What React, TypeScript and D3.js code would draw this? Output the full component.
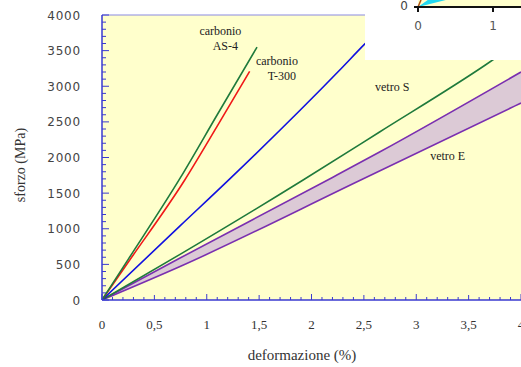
import React from "react";
import * as d3 from "d3";

// strain (%) / stress (MPa)
const as4Strain = [0, 0.25, 0.75, 1.1, 1.48];
const as4Stress = [0, 570, 1720, 2600, 3550];
const t300Strain = [0, 0.25, 0.79, 1.1, 1.41];
const t300Stress = [0, 530, 1684, 2440, 3210];
const blueStrain = [0, 0.745, 1.22, 2.27, 2.5, 2.65];
const blueStress = [0, 1040, 1700, 3228, 3580, 3800];
const vetroSStrain = [0, 0.745, 1.92, 2.65, 3.66, 3.9];
const vetroSStress = [0, 640, 1684, 2358, 3298, 3540];
const vetroEUpStrain = [0, 0.745, 2.2, 2.65, 4.0];
const vetroEUpStress = [0, 589, 1720, 2077, 3200];
const vetroELoStrain = [0, 0.745, 2.47, 4.0];
const vetroELoStress = [0, 470, 1684, 2765];

const xTickLabels = ["0", "0,5", "1", "1,5", "2", "2,5", "3", "3,5", "4"];
const xTickValues = [0, 0.5, 1, 1.5, 2, 2.5, 3, 3.5, 4];
const yTickValues = [0, 500, 1000, 1500, 2000, 2500, 3000, 3500, 4000];

const labels = [
  { lines: ["carbonio", "AS-4"], x: 1.13, y: 3720 },
  { lines: ["carbonio", "T-300"], x: 1.67, y: 3300 },
  { lines: ["vetro S"], x: 2.77, y: 2930 },
  { lines: ["vetro E"], x: 3.3, y: 1970 },
];

// inset (partially visible) ticks
const insetTicks = [0, 1];
const insetCyanX = [0, 0.37, 0.13];
const insetCyanY = [0, 0.1, 0.1];

const zip = (a: number[], b: number[]) => a.map((v, i) => [v, b[i]] as [number, number]);

export default function App() {
  const W = 521, H = 367;
  const x = d3.scaleLinear().domain([0, 4]).range([102, 521]);
  const y = d3.scaleLinear().domain([0, 4000]).range([300, 15]);
  const line = d3.line<[number, number]>().x(d => x(d[0])).y(d => y(d[1])).curve(d3.curveMonotoneX);

  const up = zip(vetroEUpStrain, vetroEUpStress);
  const lo = zip(vetroELoStrain, vetroELoStress);
  const area = d3
    .area<number>()
    .x(d => x(d))
    .y0(d => y(d3.scaleLinear().domain(vetroELoStrain).range(vetroELoStress)(d)))
    .y1(d => y(d3.scaleLinear().domain(vetroEUpStrain).range(vetroEUpStress)(d)));
  const band = area(d3.range(0, 4.001, 0.05));

  const axisColor = "#3a3ad0";
  const minorX = d3.range(0, 41).map(i => i / 10);
  const minorY = d3.range(0, 41).map(i => i * 100);

  const ix = d3.scaleLinear().domain([0, 1]).range([418, 493]);
  const iy = d3.scaleLinear().domain([0, 1]).range([7, -63]);
  const cyanPath =
    d3.line<[number, number]>().x(d => ix(d[0])).y(d => iy(d[1]))(zip(insetCyanX, insetCyanY)) + "Z";

  return (
    <svg width={W} height={H} style={{ position: "fixed", left: 0, top: 0, background: "#fff" }}>
      <defs>
        <clipPath id="plot">
          <rect x={102} y={15} width={419} height={285} />
        </clipPath>
      </defs>
      <rect x={102} y={15} width={419} height={285} fill="#ffffcc" />
      <g clipPath="url(#plot)">
        <path d={band!} fill="#dccad6" stroke="none" />
        <path d={line(up)!} fill="none" stroke="#7a2fb0" strokeWidth={1.6} />
        <path d={line(lo)!} fill="none" stroke="#7a2fb0" strokeWidth={1.6} />
        <path d={line(zip(vetroSStrain, vetroSStress))!} fill="none" stroke="#1f7a3c" strokeWidth={1.6} />
        <path d={line(zip(blueStrain, blueStress))!} fill="none" stroke="#1010e0" strokeWidth={1.6} />
        <path d={line(zip(t300Strain, t300Stress))!} fill="none" stroke="#f01818" strokeWidth={1.6} />
        <path d={line(zip(as4Strain, as4Stress))!} fill="none" stroke="#1f7a3c" strokeWidth={1.6} />
      </g>
      {/* axes */}
      <line x1={102} x2={521} y1={15} y2={15} stroke="#8a8ae0" strokeWidth={1} />
      <line x1={102} x2={102} y1={15} y2={300} stroke={axisColor} strokeWidth={1.5} />
      <line x1={102} x2={521} y1={300} y2={300} stroke={axisColor} strokeWidth={1.5} />
      {minorX.map((v, i) => {
        const len = i % 10 === 0 ? 6 : i % 5 === 0 ? 5 : 3;
        return <line key={"xt" + i} x1={x(v)} x2={x(v)} y1={300} y2={300 - len} stroke={axisColor} strokeWidth={1} />;
      })}
      {minorY.map((v, i) => {
        const len = i % 5 === 0 ? 7 : 4;
        return <line key={"yt" + i} x1={102} x2={102 + len} y1={y(v)} y2={y(v)} stroke={axisColor} strokeWidth={1} />;
      })}
      {xTickValues.map((v, i) => (
        <text key={"xl" + i} x={x(v)} y={329} textAnchor="middle" fontFamily="Liberation Serif" fontSize={13} fill="#333">
          {xTickLabels[i]}
        </text>
      ))}
      {yTickValues.map((v, i) => (
        <text key={"yl" + i} x={81} y={y(v) + 4.5} textAnchor="end" fontFamily="DejaVu Sans" fontSize={12} letterSpacing={0.8} fill="#444">
          {v}
        </text>
      ))}
      <text x={302} y={360} textAnchor="middle" fontFamily="Liberation Serif" fontSize={15} fill="#333">
        deformazione (%)
      </text>
      <text transform="translate(25,165) rotate(-90)" textAnchor="middle" fontFamily="Liberation Serif" fontSize={14} fill="#333">
        sforzo (MPa)
      </text>
      {labels.map((l, i) =>
        l.lines.map((t, j) => (
          <text key={"lab" + i + j} x={x(l.x) + (j === 1 ? 5 : 0)} y={y(l.y) + j * 15} textAnchor="middle" fontFamily="Liberation Serif" fontSize={12} fill="#222">
            {t}
          </text>
        ))
      )}
      {/* inset */}
      <rect x={365} y={0} width={156} height={60} fill="#fff" />
      <rect x={ix(0)} y={0} width={521 - ix(0)} height={7} fill="#ffffcc" />
      <path d={cyanPath} fill="#22d8f0" />
      <line x1={ix(0)} x2={ix(0) + 3} y1={7} y2={0} stroke="#b05010" strokeWidth={1.5} />
      <line x1={414} x2={521} y1={7} y2={7} stroke="#111" strokeWidth={2} />
      {insetTicks.map(t => (
        <g key={"it" + t}>
          <line x1={ix(t)} x2={ix(t)} y1={7} y2={12} stroke="#111" strokeWidth={2} />
          <text x={ix(t)} y={30} textAnchor="middle" fontFamily="DejaVu Sans" fontSize={12} fill="#555">
            {t}
          </text>
        </g>
      ))}
      <text x={408} y={10} textAnchor="end" fontFamily="DejaVu Sans" fontSize={12} fill="#444">0</text>
    </svg>
  );
}
